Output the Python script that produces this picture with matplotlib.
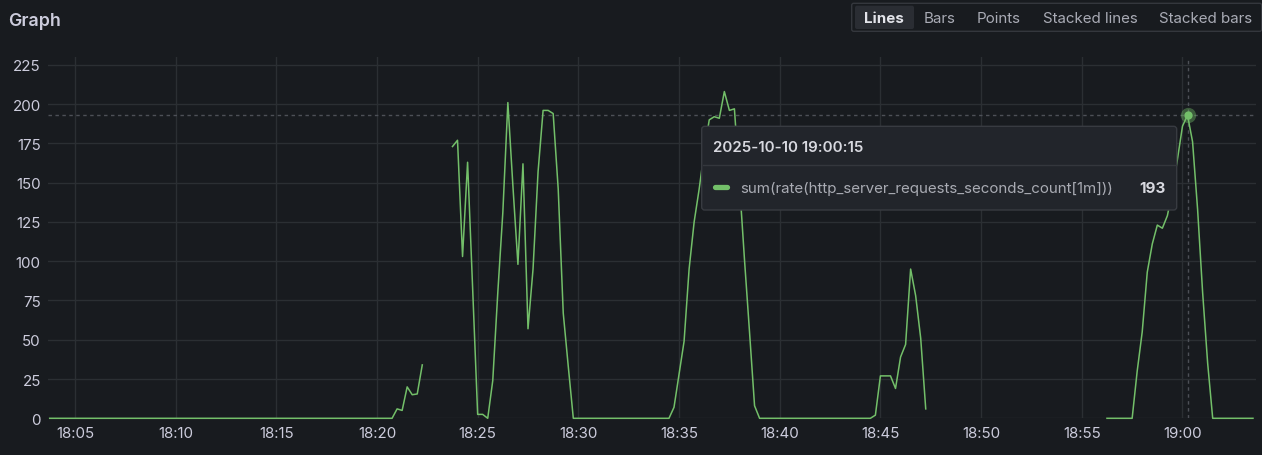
import numpy as np
import pandas as pd
import matplotlib
matplotlib.use("Agg")
import matplotlib.pyplot as plt
import matplotlib.dates as mdates
from matplotlib.patches import FancyBboxPatch
from matplotlib.lines import Line2D

DAY = "2025-10-10"

# polyline vertices (15s samples, flat runs collapsed); nan = gap in the series
times = [
    "18:03:45", "18:20:45", "18:21:00", "18:21:15", "18:21:30", "18:21:45", "18:22:00", "18:22:15",
    "18:23:00",
    "18:23:45", "18:24:00", "18:24:15", "18:24:30", "18:24:45", "18:25:00", "18:25:15", "18:25:30",
    "18:25:45", "18:26:00", "18:26:15", "18:26:30", "18:26:45", "18:27:00", "18:27:15", "18:27:30",
    "18:27:45", "18:28:00", "18:28:15", "18:28:30", "18:28:45", "18:29:00", "18:29:15", "18:29:30",
    "18:29:45", "18:34:30", "18:34:45", "18:35:00", "18:35:15", "18:35:30", "18:35:45", "18:36:00",
    "18:36:15", "18:36:30", "18:36:45", "18:37:00", "18:37:15", "18:37:30", "18:37:45", "18:38:00",
    "18:38:15", "18:38:30", "18:38:45", "18:39:00", "18:44:30", "18:44:45", "18:45:00", "18:45:15",
    "18:45:30", "18:45:45", "18:46:00", "18:46:15", "18:46:30", "18:46:45", "18:47:00", "18:47:15",
    "18:52:00",
    "18:56:15", "18:57:30", "18:57:45", "18:58:00", "18:58:15", "18:58:30", "18:58:45", "18:59:00",
    "18:59:15", "18:59:30", "18:59:45", "19:00:00", "19:00:15", "19:00:30", "19:00:45", "19:01:00",
    "19:01:15", "19:01:30", "19:03:30",
]
values = [
    0, 0, 6, 5, 20, 15, 15.5, 34,
    np.nan,
    173, 177, 103, 163, 83, 2.5, 2.5, 0,
    24, 80, 131, 201, 148, 98, 162, 57,
    95, 157, 196, 196, 194, 146, 67, 33,
    0, 0, 7, 28, 49, 95, 125, 146,
    170, 190, 192, 191, 208, 196, 197, 150,
    101, 55, 8, 0, 0, 2, 27, 27,
    27, 19, 39, 47, 95, 78, 51, 6,
    np.nan,
    0, 0, 30, 55, 93, 111, 123, 121,
    129, 145, 165, 186, 193, 176, 133, 80,
    35, 0, 0,
]

series_name = "sum(rate(http_server_requests_seconds_count[1m]))"
hover_time = "19:00:15"
hover_value = 193
y_ticks = [0, 25, 50, 75, 100, 125, 150, 175, 200, 225]
view_modes = ["Lines", "Bars", "Points", "Stacked lines", "Stacked bars"]

BG = "#181b1f"
GRID = "#2b2f33"
TEXT = "#ccccdc"
GREEN = "#73bf69"
FS = 10.9

plt.rcParams['font.family'] = ['Inter', 'DejaVu Sans']

W, H = 1262, 456
fig = plt.figure(figsize=(W / 100, H / 100), dpi=100, facecolor=BG)
IN = fig.dpi_scale_trans


def px(x, y):
    # pixel coords from top-left -> inches
    return x / 100, (H - y) / 100


ax = fig.add_axes([47.7 / W, (H - 419.3) / H, (1256 - 47.7) / W, (419.3 - 58) / H])
ax.set_facecolor(BG)

t = pd.to_datetime([f"{DAY} {s}" for s in times])
ax.plot(t, values, color=GREEN, lw=1.1, clip_on=False, zorder=3)

ht = pd.Timestamp(f"{DAY} {hover_time}")
ax.axhline(hover_value, color="#4d5057", lw=1, ls=(0, (2.5, 2.5)), zorder=2)
ax.axvline(ht, color="#4d5057", lw=1, ls=(0, (2.5, 2.5)), zorder=2)
ax.plot([ht], [hover_value], "o", ms=11, color=GREEN, alpha=0.4, mec="none", zorder=4)
ax.plot([ht], [hover_value], "o", ms=6, color=GREEN, mec="none", zorder=5)

ax.set_xlim(pd.Timestamp(f"{DAY} 18:03:39"), pd.Timestamp(f"{DAY} 19:03:39"))
ax.set_ylim(0, 230)
ax.set_yticks(y_ticks)
ax.xaxis.set_major_locator(mdates.MinuteLocator(byminute=range(0, 60, 5)))
ax.xaxis.set_major_formatter(mdates.DateFormatter("%H:%M"))
ax.grid(color=GRID, lw=1)
ax.set_axisbelow(True)
for s in ax.spines.values():
    s.set_visible(False)
ax.tick_params(axis="both", length=0, colors=TEXT, labelsize=FS)
ax.tick_params(axis="y", pad=5)
ax.tick_params(axis="x", pad=5.5)

# panel title
fig.text(*px(8, 26), "Graph", transform=IN, color=TEXT, fontsize=12.8, fontweight="semibold",
         va="baseline", ha="left")

# view mode switch
fig.add_artist(FancyBboxPatch(px(851.7, 32.3), 4.10, 0.28, boxstyle="round,pad=0,rounding_size=0.02",
                              transform=IN, fc="none", ec="#34373d", lw=1))
fig.add_artist(FancyBboxPatch(px(855, 30), 0.59, 0.233, boxstyle="round,pad=0,rounding_size=0.02",
                              transform=IN, fc="#2a2d33", ec="none"))
mode_x = [884, 940, 999, 1090, 1206]
for name, cx in zip(view_modes, mode_x):
    sel = name == "Lines"
    fig.text(*px(cx, 23.3), name, transform=IN, ha="center", va="baseline", fontsize=FS,
             color="#e3e4ea" if sel else "#a9abb5", fontweight="bold" if sel else "normal")

# tooltip
fig.add_artist(FancyBboxPatch(px(701.7, 211), (1176.7 - 701.7) / 100, (211 - 127.3) / 100,
                              boxstyle="round,pad=0,rounding_size=0.03", transform=IN,
                              fc="#22252b", ec="#383b41", lw=1, zorder=10))
x0, y0 = px(702.5, 166)
x1, _ = px(1176, 166)
fig.add_artist(Line2D([x0, x1], [y0, y0], transform=IN, color="#34373d", lw=1, zorder=11))
fig.text(*px(712.7, 151.7), f"{DAY} {hover_time}", transform=IN, ha="left", va="baseline",
         fontsize=FS, fontweight="semibold", color="#d8d9e0", zorder=12)
sx0, sy = px(715, 188.3)
sx1, _ = px(727, 188.3)
fig.add_artist(Line2D([sx0, sx1], [sy, sy], transform=IN, color=GREEN, lw=3.8,
                      solid_capstyle="round", zorder=12))
fig.text(*px(740, 193.5), series_name, transform=IN, ha="left", va="baseline",
         fontsize=FS, color="#a9abb3", zorder=12)
fig.text(*px(1165.7, 193.5), f"{hover_value}", transform=IN, ha="right", va="baseline",
         fontsize=FS, fontweight="bold", color="#d8d9e0", zorder=12)

fig.savefig("out.png", dpi=100, facecolor=BG)
